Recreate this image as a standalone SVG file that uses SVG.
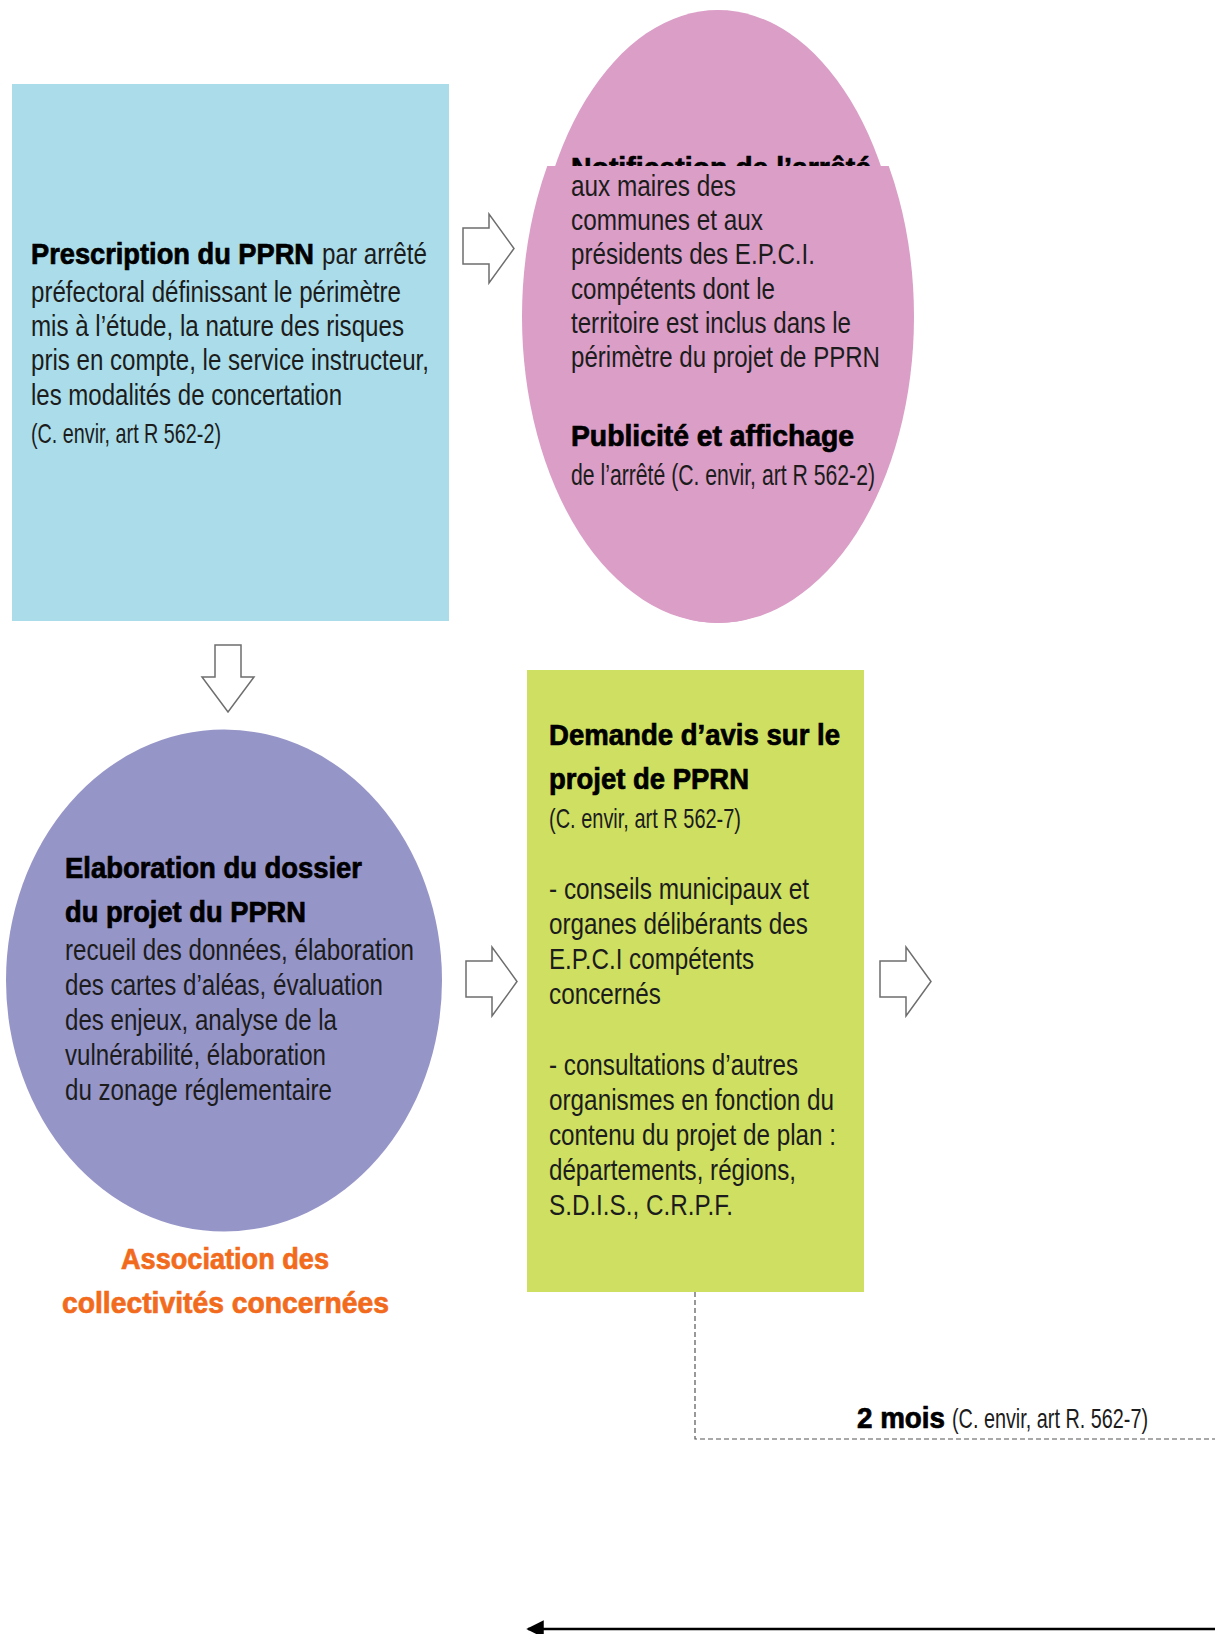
<svg xmlns="http://www.w3.org/2000/svg" width="1215" height="1634" viewBox="0 0 1215 1634">
<style>
.t{font-family:"Liberation Sans Narrow","Liberation Sans",Arial,sans-serif;font-size:30px;fill:#1c1c1c}
.s{font-family:"Liberation Sans Narrow","Liberation Sans",Arial,sans-serif;font-size:28px;fill:#1c1c1c}
.b{font-family:"Liberation Sans",Arial,sans-serif;font-weight:bold;font-size:29px;fill:#000;stroke:#000;stroke-width:0.7}
.o{font-family:"Liberation Sans",Arial,sans-serif;font-weight:bold;font-size:29px;fill:#F26B1D;stroke:#F26B1D;stroke-width:0.7}
.blk{fill:#fff;stroke:#6e6e6e;stroke-width:1.5;stroke-linejoin:miter}
.dash{fill:none;stroke:#555;stroke-width:1.2;stroke-dasharray:5 3}
</style>
<defs>
<path id="rarrow" d="M0,14 H26 V0 L51,34.5 L26,69 V50 H0 Z"/>
<clipPath id="lowcut"><rect x="500" y="166" width="440" height="470"/></clipPath>
<marker id="ah" viewBox="0 0 10 10" refX="9" refY="5" markerWidth="7" markerHeight="7" markerUnits="strokeWidth" orient="auto-start-reverse"><path d="M0,0 L10,5 L0,10 Z" fill="#000"/></marker>
</defs>
<rect width="1215" height="1634" fill="#fff"/>

<g id="n-prescription">
<rect x="12" y="84" width="437" height="537" fill="#AADDE9"/>
<text class="b" x="31" y="264" textLength="283" lengthAdjust="spacingAndGlyphs">Prescription du PPRN</text>
<text class="t" x="322" y="264" textLength="105" lengthAdjust="spacingAndGlyphs">par arrêté</text>
<text class="t" x="31" y="302" textLength="370" lengthAdjust="spacingAndGlyphs">préfectoral définissant le périmètre</text>
<text class="t" x="31" y="336" textLength="373" lengthAdjust="spacingAndGlyphs">mis à l’étude, la nature des risques</text>
<text class="t" x="31" y="370" textLength="398" lengthAdjust="spacingAndGlyphs">pris en compte, le service instructeur,</text>
<text class="t" x="31" y="405" textLength="311" lengthAdjust="spacingAndGlyphs">les modalités de concertation</text>
<text class="s" x="31" y="443" textLength="190" lengthAdjust="spacingAndGlyphs">(C. envir, art R 562-2)</text>
</g>

<g id="n-notification">
<ellipse cx="718" cy="316.5" rx="187" ry="306.5" fill="#DA9EC7"/>
<text class="b" x="571" y="178" textLength="300" lengthAdjust="spacingAndGlyphs">Notification de l’arrêté</text>
<ellipse cx="718" cy="316.5" rx="196" ry="306.5" fill="#DA9EC7" clip-path="url(#lowcut)"/>
<text class="t" x="571" y="196" textLength="165" lengthAdjust="spacingAndGlyphs">aux maires des</text>
<text class="t" x="571" y="230" textLength="192" lengthAdjust="spacingAndGlyphs">communes et aux</text>
<text class="t" x="571" y="264" textLength="244" lengthAdjust="spacingAndGlyphs">présidents des E.P.C.I.</text>
<text class="t" x="571" y="298.5" textLength="204" lengthAdjust="spacingAndGlyphs">compétents dont le</text>
<text class="t" x="571" y="333" textLength="280" lengthAdjust="spacingAndGlyphs">territoire est inclus dans le</text>
<text class="t" x="571" y="367" textLength="309" lengthAdjust="spacingAndGlyphs">périmètre du projet de PPRN</text>
<text class="b" x="571" y="446" textLength="283" lengthAdjust="spacingAndGlyphs">Publicité et affichage</text>
<text class="t" x="571" y="485" textLength="304" lengthAdjust="spacingAndGlyphs">de l’arrêté (C. envir, art R 562-2)</text>
</g>

<g id="n-elaboration">
<ellipse cx="224" cy="980.5" rx="218" ry="251" fill="#9695C8"/>
<text class="b" x="65" y="878" textLength="297" lengthAdjust="spacingAndGlyphs">Elaboration du dossier</text>
<text class="b" x="65" y="922" textLength="241" lengthAdjust="spacingAndGlyphs">du projet du PPRN</text>
<text class="t" x="65" y="960" textLength="349" lengthAdjust="spacingAndGlyphs">recueil des données, élaboration</text>
<text class="t" x="65" y="995" textLength="318" lengthAdjust="spacingAndGlyphs">des cartes d’aléas, évaluation</text>
<text class="t" x="65" y="1030" textLength="272" lengthAdjust="spacingAndGlyphs">des enjeux, analyse de la</text>
<text class="t" x="65" y="1065" textLength="261" lengthAdjust="spacingAndGlyphs">vulnérabilité, élaboration</text>
<text class="t" x="65" y="1100" textLength="267" lengthAdjust="spacingAndGlyphs">du zonage réglementaire</text>
</g>

<g id="label-association">
<text class="o" x="121" y="1269" textLength="208" lengthAdjust="spacingAndGlyphs">Association des</text>
<text class="o" x="62" y="1313" textLength="327" lengthAdjust="spacingAndGlyphs">collectivités concernées</text>
</g>

<g id="n-demande">
<rect x="527" y="670" width="337" height="622" fill="#CEDF62"/>
<text class="b" x="549" y="745" textLength="291" lengthAdjust="spacingAndGlyphs">Demande d’avis sur le</text>
<text class="b" x="549" y="789" textLength="200" lengthAdjust="spacingAndGlyphs">projet de PPRN</text>
<text class="s" x="549" y="828" textLength="192" lengthAdjust="spacingAndGlyphs">(C. envir, art R 562-7)</text>
<text class="t" x="549" y="899" textLength="260" lengthAdjust="spacingAndGlyphs">- conseils municipaux et</text>
<text class="t" x="549" y="934" textLength="259" lengthAdjust="spacingAndGlyphs">organes délibérants des</text>
<text class="t" x="549" y="969" textLength="205" lengthAdjust="spacingAndGlyphs">E.P.C.I compétents</text>
<text class="t" x="549" y="1004" textLength="112" lengthAdjust="spacingAndGlyphs">concernés</text>
<text class="t" x="549" y="1075" textLength="249" lengthAdjust="spacingAndGlyphs">- consultations d’autres</text>
<text class="t" x="549" y="1110" textLength="285" lengthAdjust="spacingAndGlyphs">organismes en fonction du</text>
<text class="t" x="549" y="1145" textLength="287" lengthAdjust="spacingAndGlyphs">contenu du projet de plan :</text>
<text class="t" x="549" y="1180" textLength="247" lengthAdjust="spacingAndGlyphs">départements, régions,</text>
<text class="t" x="549" y="1215" textLength="184" lengthAdjust="spacingAndGlyphs">S.D.I.S., C.R.P.F.</text>
</g>

<g id="label-delai">
<text class="b" x="857" y="1428" textLength="88" lengthAdjust="spacingAndGlyphs">2 mois</text>
<text class="t" x="952" y="1428" textLength="196" lengthAdjust="spacingAndGlyphs" style="font-size:28px">(C. envir, art R. 562-7)</text>
</g>

<g id="connectors">
<use href="#rarrow" class="blk" x="463" y="214"/>
<path class="blk" d="M215,645 H241 V677 H254 L228,712 L202,677 H215 Z"/>
<use href="#rarrow" class="blk" x="466" y="947"/>
<use href="#rarrow" class="blk" x="880" y="947"/>
<path class="dash" d="M695,1292 V1439 H1215"/>
<line x1="1215" y1="1629" x2="528" y2="1629" stroke="#000" stroke-width="2.5" marker-end="url(#ah)"/>
</g>
</svg>
